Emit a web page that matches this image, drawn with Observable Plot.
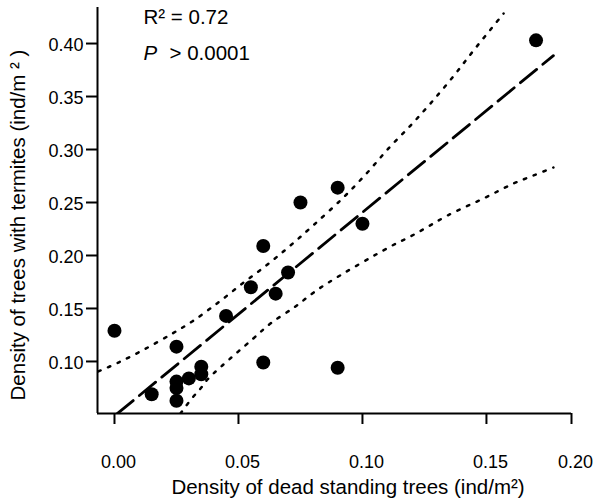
<!DOCTYPE html>
<html>
<head>
<meta charset="utf-8">
<script src="https://cdn.jsdelivr.net/npm/d3@7"></script>
<script src="https://cdn.jsdelivr.net/npm/@observablehq/plot@0.6"></script>
<style>
  body { margin: 0; background: #fff; }
  #chart svg { font-family: Arial, "Liberation Sans", sans-serif; }
</style>
</head>
<body>
<div id="chart"></div>
<script>
// Observations
const deadDensity    = [0.000, 0.015, 0.025, 0.025, 0.025, 0.025, 0.030, 0.035, 0.035, 0.045, 0.055, 0.060, 0.060, 0.065, 0.070, 0.075, 0.090, 0.090, 0.100, 0.170];
const termiteDensity = [0.129, 0.069, 0.114, 0.081, 0.075, 0.063, 0.084, 0.095, 0.088, 0.143, 0.170, 0.209, 0.099, 0.164, 0.184, 0.250, 0.264, 0.094, 0.230, 0.403];

// Fitted regression line
const fitX = [0.001, 0.177];
const fitY = [0.0505, 0.3886];

// Confidence band curves
const upperX = [-0.0065, 0.0016, 0.0125, 0.0238, 0.0315, 0.0415, 0.0516, 0.0617, 0.071, 0.0802, 0.0923, 0.102, 0.1105, 0.1194, 0.1274, 0.1363, 0.1448, 0.1569];
const upperY = [0.0906, 0.099, 0.112, 0.127, 0.138, 0.155, 0.1736, 0.1915, 0.2095, 0.2285, 0.2547, 0.2783, 0.301, 0.3226, 0.3434, 0.368, 0.3934, 0.4283];
const lowerX = [0.0266, 0.0315, 0.0347, 0.0375, 0.0435, 0.056, 0.0629, 0.073, 0.0798, 0.0863, 0.1113, 0.1194, 0.1266, 0.1343, 0.1496, 0.1609, 0.169, 0.177];
const lowerY = [0.0509, 0.066, 0.0745, 0.083, 0.0962, 0.1217, 0.1358, 0.1519, 0.1642, 0.1745, 0.2085, 0.218, 0.2274, 0.2377, 0.2547, 0.2679, 0.2755, 0.283];

// Axes
const xDomain = [-0.00685, 0.1843];
const yDomain = [0.0509, 0.434];
const xTickValues = [0, 0.05, 0.10, 0.15, 0.1843];
const xTickLabels = ["0.00", "0.05", "0.10", "0.15", "0.20"];
const yTickValues = [0.10, 0.15, 0.20, 0.25, 0.30, 0.35, 0.40];
const yTickLabels = ["0.10", "0.15", "0.20", "0.25", "0.30", "0.35", "0.40"];
const xTitle = "Density of dead standing trees (ind/m²)";
const yTitle = "Density of trees with termites (ind/m ² )";
const statR2 = "R² = 0.72";
const statPSymbol = "P";
const statPValue = "> 0.0001";

const points = deadDensity.map((x, i) => ({x, y: termiteDensity[i]}));
const fit = fitX.map((x, i) => ({x, y: fitY[i]}));
const upper = upperX.map((x, i) => ({x, y: upperY[i]}));
const lower = lowerX.map((x, i) => ({x, y: lowerY[i]}));
const xTicks = xTickValues.map((v, i) => ({v, label: xTickLabels[i]}));
const yTicks = yTickValues.map((v, i) => ({v, label: yTickLabels[i]}));

const chart = Plot.plot({
  width: 600,
  height: 502,
  marginLeft: 97,
  marginRight: 29,
  marginTop: 7,
  marginBottom: 89,
  style: {fontFamily: "Arial, 'Liberation Sans', sans-serif", fontSize: "17.5px", color: "#000", background: "#fff"},
  x: {type: "linear", domain: xDomain, nice: false},
  y: {type: "linear", domain: yDomain, nice: false},
  marks: [
    Plot.axisX({ticks: xTickValues, tickFormat: () => "", tickSize: 11, strokeWidth: 2, label: null}),
    Plot.axisY({ticks: yTickValues, tickFormat: () => "", tickSize: 11, strokeWidth: 2, label: null}),
    Plot.text(xTicks, {x: "v", frameAnchor: "bottom", dy: 54, dx: 4, text: "label", textAnchor: "middle", lineAnchor: "bottom", fontSize: 18, fill: "#000"}),
    Plot.text(yTicks, {y: "v", frameAnchor: "left", dx: -14, dy: 1.5, text: "label", textAnchor: "end", lineAnchor: "middle", fontSize: 18, fill: "#000"}),
    Plot.ruleX([xDomain[0]], {stroke: "#000", strokeWidth: 2}),
    Plot.ruleY([yDomain[0]], {stroke: "#000", strokeWidth: 2}),
    Plot.line(upper, {x: "x", y: "y", curve: "catmull-rom", stroke: "#000", strokeWidth: 2.5, strokeDasharray: "2.5,8", clip: true}),
    Plot.line(lower, {x: "x", y: "y", curve: "catmull-rom", stroke: "#000", strokeWidth: 2.5, strokeDasharray: "2.5,8", clip: true}),
    Plot.line(fit, {x: "x", y: "y", stroke: "#000", strokeWidth: 2.8, strokeDasharray: "21,8", clip: true}),
    Plot.dot(points, {x: "x", y: "y", r: 7, fill: "#000", stroke: "none"}),
    Plot.text([statR2], {frameAnchor: "top-left", dx: 46, dy: 16, text: d => d, textAnchor: "start", lineAnchor: "bottom", fontSize: 20.5, fill: "#000"}),
    Plot.text([statPSymbol], {frameAnchor: "top-left", dx: 46, dy: 52, text: d => d, textAnchor: "start", lineAnchor: "bottom", fontSize: 20.5, fontStyle: "italic", fill: "#000"}),
    Plot.text([statPValue], {frameAnchor: "top-left", dx: 72, dy: 52, text: d => d, textAnchor: "start", lineAnchor: "bottom", fontSize: 20.5, fill: "#000"}),
    Plot.text([xTitle], {frameAnchor: "bottom", dx: 13.5, dy: 80, text: d => d, textAnchor: "middle", lineAnchor: "bottom", fontSize: 20.5, fill: "#000"}),
    Plot.text([yTitle], {frameAnchor: "left", dx: -73, dy: 14.5, rotate: -90, text: d => d, textAnchor: "middle", lineAnchor: "bottom", fontSize: 20.5, fill: "#000"})
  ]
});
document.getElementById("chart").appendChild(chart);
</script>
</body>
</html>
